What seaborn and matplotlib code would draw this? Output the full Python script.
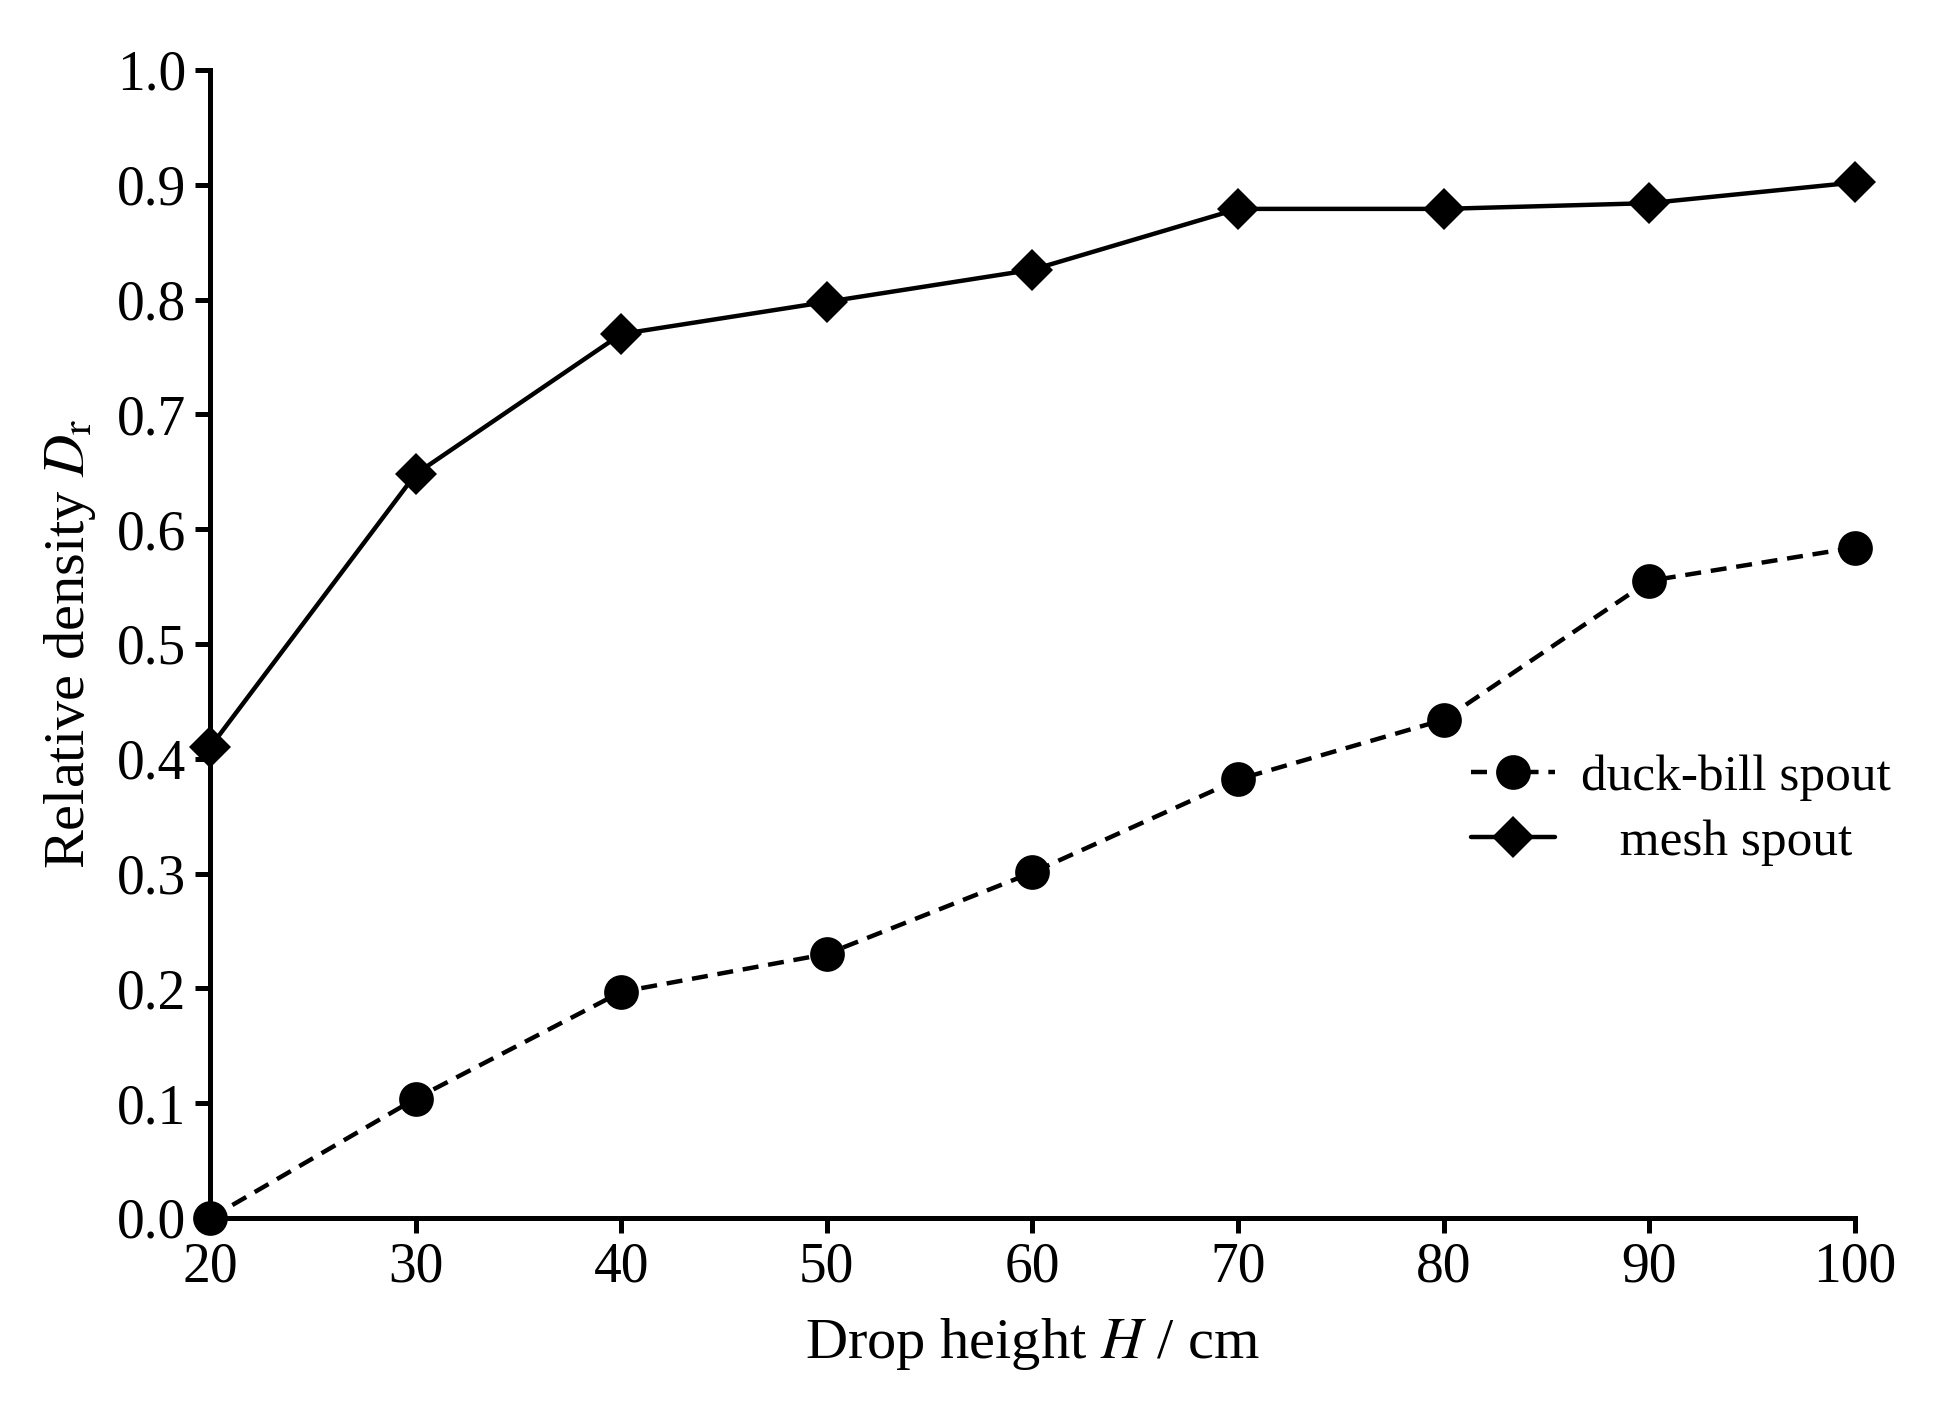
import matplotlib
matplotlib.use("Agg")
import matplotlib.pyplot as plt
import pandas as pd
import seaborn as sns

heights = [20, 30, 40, 50, 60, 70, 80, 90, 100]
duck_bill = [0.0, 0.104, 0.197, 0.230, 0.301, 0.382, 0.434, 0.555, 0.584]
mesh = [0.410, 0.648, 0.770, 0.798, 0.826, 0.879, 0.879, 0.884, 0.902]

sns.set_theme(style="ticks")
plt.rcParams["font.family"] = ["Liberation Serif", "DejaVu Serif"]
plt.rcParams["mathtext.fontset"] = "stix"
for key in ["text.color", "axes.labelcolor", "xtick.color", "ytick.color", "axes.edgecolor"]:
    plt.rcParams[key] = "black"

df = pd.DataFrame({
    "H": heights * 2,
    "Dr": duck_bill + mesh,
    "spout": ["duck-bill spout"] * len(heights) + ["mesh spout"] * len(heights),
})

fig = plt.figure(figsize=(19.38, 14.05), dpi=100)
ax = fig.add_axes([0.1084, 0.1331, 0.8487, 0.8171])

sns.lineplot(
    data=df[df["spout"] == "duck-bill spout"], x="H", y="Dr", ax=ax,
    color="black", linestyle=(0, (3.6, 2.2)), linewidth=3.2, marker="o",
    markersize=25, markeredgewidth=0, clip_on=False, label="duck-bill spout",
)
sns.lineplot(
    data=df[df["spout"] == "mesh spout"], x="H", y="Dr", ax=ax,
    color="black", linewidth=3.2, marker="D", markersize=21,
    markeredgewidth=0, clip_on=False, label="   mesh spout",
)

ax.set_xlim(20, 100)
ax.set_ylim(0, 1.0)
ax.set_xticks(heights)
ax.set_yticks([i / 10 for i in range(11)])
ax.set_yticklabels([f"{i / 10:.1f}" for i in range(11)])
ax.tick_params(labelsize=40, width=3.6, length=11, color="black", pad=6)
for side in ["left", "bottom"]:
    ax.spines[side].set_linewidth(3.6)
sns.despine(ax=ax)

ax.set_xlabel("Drop height $\\mathit{H}$ / cm", fontsize=42, labelpad=16)
ax.set_ylabel("Relative density $\\mathit{D}_\\mathrm{r}$", fontsize=42, labelpad=14)

leg = ax.legend(loc="center right", bbox_to_anchor=(1.05, 0.355), frameon=False,
                fontsize=37, handlelength=1.65, handletextpad=0.5, labelspacing=0.35)

fig.savefig("out.png", dpi=100)
